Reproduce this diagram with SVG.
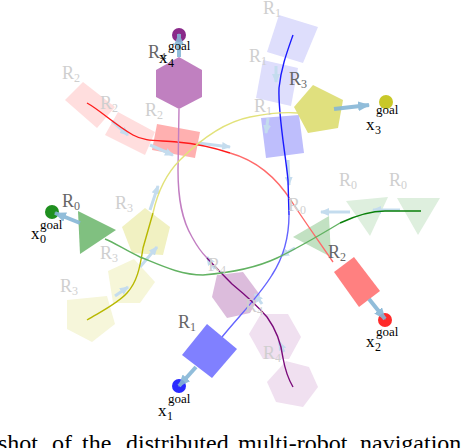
<svg xmlns="http://www.w3.org/2000/svg" width="462" height="448" viewBox="0 0 462 448">
<defs>
<marker id="ah" markerUnits="userSpaceOnUse" markerWidth="12" markerHeight="10" refX="11" refY="5" orient="auto"><path d="M0,0 L12,5 L0,10 z" fill="#86b6d6"/></marker>
<marker id="ahg" markerUnits="userSpaceOnUse" markerWidth="9" markerHeight="8" refX="8" refY="4" orient="auto"><path d="M0,0 L9,4 L0,8 z" fill="#c4dcee"/></marker>
<style>
.lbl{font-family:"Liberation Serif","Times New Roman",serif;font-size:18px}
.cur{fill:#666}
.gh{fill:#cfcfcf}
.gl{font-family:"Liberation Serif","Times New Roman",serif;fill:#000}
.cap{font-family:"Liberation Serif","Times New Roman",serif;fill:#000;font-size:24px}
.arr{stroke:#86b6d6;stroke-width:4;fill:none;opacity:0.9}
.garr{stroke:#c4dcee;stroke-width:3;fill:none}
.tr{fill:none;stroke-width:1.4}
</style>
</defs>

<g id="ghosts">
<polygon points="65,100 83,82 115,107 97,128" fill="#ffdede"/>
<polygon points="105,135 118,112 155,132 145,155" fill="#ffdede"/>
<polygon points="157,124 200,132 195,158 152,150" fill="#ffb0b0"/>
<polygon points="279,15 318,27 303,63 267,52" fill="#dedefc"/>
<polygon points="263,60 298,68 291,106 256,98" fill="#dedefc"/>
<polygon points="261,118 299,115 304,153 266,158" fill="#bebefc"/>
<polygon points="122,227 145,208 170,227 163,255 132,253" fill="#f1f1c2"/>
<polygon points="108,271 134,259 155,282 140,303 113,303" fill="#f6f6d8"/>
<polygon points="67,300 107,296 115,324 92,342 67,329" fill="#f6f6da"/>
<polygon points="217,275 243,272 260,295 250,313 227,318 212,297" fill="#dcbcdc"/>
<polygon points="249,334 261,314 288,314 301,337 289,359 263,359" fill="#f0e0f0"/>
<polygon points="267,382 286,361 309,367 318,387 303,407 276,402" fill="#f0e0f0"/>
<polygon points="293,237 329,216 331,257" fill="#c2e1c2"/>
<polygon points="346,201 388,197 370,236" fill="#deefde"/>
<polygon points="397,198 440,198 418,235" fill="#deefde"/>
</g>

<g id="ghost-arrows">
<line class="garr" x1="112" y1="121" x2="128" y2="135" marker-end="url(#ahg)"/>
<line class="garr" x1="150" y1="145" x2="173" y2="155" marker-end="url(#ahg)"/>
<line class="garr" x1="198" y1="143" x2="230" y2="147" marker-end="url(#ahg)"/>
<line class="garr" x1="276" y1="66" x2="276" y2="82" marker-end="url(#ahg)"/>
<line class="garr" x1="268" y1="118" x2="266" y2="133" marker-end="url(#ahg)"/>
<line class="garr" x1="288" y1="160" x2="289" y2="185" marker-end="url(#ahg)"/>
<line class="garr" x1="150" y1="210" x2="158" y2="186" marker-end="url(#ahg)"/>
<line class="garr" x1="140" y1="267" x2="157" y2="247" marker-end="url(#ahg)"/>
<line class="garr" x1="115" y1="296" x2="128" y2="287" marker-end="url(#ahg)"/>
<line class="garr" x1="400" y1="210" x2="373" y2="210" marker-end="url(#ahg)"/>
<line class="garr" x1="350" y1="212" x2="321" y2="212" marker-end="url(#ahg)"/>
<line class="garr" x1="295" y1="248" x2="281" y2="256" marker-end="url(#ahg)"/>
<line class="garr" x1="215" y1="269" x2="207" y2="257" marker-end="url(#ahg)"/>
<line class="garr" x1="262" y1="304" x2="255" y2="294" marker-end="url(#ahg)"/>
<line class="garr" x1="284" y1="352" x2="279" y2="342" marker-end="url(#ahg)"/>
</g>

<g id="trajectories">
<path class="tr" stroke="#ff1a1a" d="M87,103 C100,110 115,125 133,135 C145,142 160,140 177,142 C200,144 215,148 230,153"/>
<path class="tr" stroke="#ff6a6a" d="M230,153 C255,160 275,175 292,202 C305,222 318,240 333,262"/>
<path class="tr" stroke="#1a1aff" d="M293,35 C287,52 281,68 279,88 C278,115 285,150 288,180 L289,215"/>
<path class="tr" stroke="#6464ff" d="M289,215 C289,240 283,258 272,275 C260,295 240,315 222,337"/>
<path class="tr" stroke="#c27ec2" d="M179,109 L178,170 C178,200 182,220 192,237 C198,248 203,254 207,258"/>
<path class="tr" stroke="#7a0a7a" d="M207,258 Q220,272 232,284 Q255,303 267,317 Q280,335 283,358 Q286,375 293,387"/>
<path class="tr" stroke="#b8b800" d="M87,320 C100,312 117,304 127,293 C137,282 140,268 143,248 L153,213"/>
<path class="tr" stroke="#e2e27a" d="M153,213 C158,190 168,172 180,160 C200,140 225,122 250,117 C270,113 285,112 298,113"/>
<path class="tr" stroke="#0a800a" d="M421,211 L385,211 C370,211 355,216 340,223"/>
<path class="tr" stroke="#62b262" d="M340,223 C320,235 300,247 277,258 C260,266 240,272 203,275 C180,275 160,265 140,257 C125,250 115,243 105,239"/>
</g>

<g id="goals">
<circle cx="52" cy="212" r="7" fill="#1f8f1f"/>
<circle cx="179" cy="386" r="7" fill="#2a2aff"/>
<circle cx="385" cy="320" r="7" fill="#ff2a2a"/>
<circle cx="386" cy="102" r="7" fill="#c8c828"/>
<circle cx="179" cy="35" r="7" fill="#8a2a8a"/>
</g>

<g id="robot-R0">
<polygon points="78,211 116,230 80,254" fill="#80c080"/>
<line class="arr" x1="80" y1="223" x2="55" y2="213" marker-end="url(#ah)"/>
</g>
<g id="robot-R1">
<polygon points="207,324 237,349 212,378 182,355" fill="#8080ff"/>
<line class="arr" x1="196" y1="367" x2="179" y2="386" marker-end="url(#ah)"/>
</g>
<g id="robot-R2">
<polygon points="334,272 354,257 380,291 359,307" fill="#ff8080"/>
<line class="arr" x1="369" y1="299" x2="385" y2="319" marker-end="url(#ah)"/>
</g>
<g id="robot-R3">
<polygon points="313,85 343,100 338,128 308,133 294,107" fill="#e0e07e"/>
<line class="arr" x1="334" y1="109" x2="369" y2="105" marker-end="url(#ah)"/>
</g>
<g id="robot-R4">
<polygon points="179,57 202,70 202,97 179,109 156,97 156,70" fill="#c080c0"/>
<line class="arr" x1="179" y1="57" x2="179" y2="34" marker-end="url(#ah)"/>
</g>

<g id="labels">
<text class="lbl gh" x="62" y="79">R<tspan font-size="12" dy="3">2</tspan></text>
<text class="lbl gh" x="100" y="109">R<tspan font-size="12" dy="3">2</tspan></text>
<text class="lbl gh" x="145" y="116">R<tspan font-size="12" dy="3">2</tspan></text>
<text class="lbl gh" x="263" y="14">R<tspan font-size="12" dy="3">1</tspan></text>
<text class="lbl gh" x="249" y="62">R<tspan font-size="12" dy="3">1</tspan></text>
<text class="lbl gh" x="254" y="112">R<tspan font-size="12" dy="3">1</tspan></text>
<text class="lbl gh" x="115" y="209">R<tspan font-size="12" dy="3">3</tspan></text>
<text class="lbl gh" x="100" y="259">R<tspan font-size="12" dy="3">3</tspan></text>
<text class="lbl gh" x="60" y="292">R<tspan font-size="12" dy="3">3</tspan></text>
<text class="lbl gh" x="339" y="186">R<tspan font-size="12" dy="3">0</tspan></text>
<text class="lbl gh" x="389" y="186">R<tspan font-size="12" dy="3">0</tspan></text>
<text class="lbl gh" x="288" y="211">R<tspan font-size="12" dy="3">0</tspan></text>
<text class="lbl gh" x="208" y="271">R<tspan font-size="12" dy="3">4</tspan></text>
<text class="lbl gh" x="245" y="312">R<tspan font-size="12" dy="3">4</tspan></text>
<text class="lbl gh" x="263" y="359">R<tspan font-size="12" dy="3">4</tspan></text>
<text class="lbl cur" x="62" y="207">R<tspan font-size="12" dy="3">0</tspan></text>
<text class="lbl cur" x="178" y="328">R<tspan font-size="12" dy="3">1</tspan></text>
<text class="lbl cur" x="328" y="258">R<tspan font-size="12" dy="3">2</tspan></text>
<text class="lbl cur" x="289" y="85">R<tspan font-size="12" dy="3">3</tspan></text>
<text class="lbl cur" x="148" y="58">R<tspan font-size="12" dy="3">4</tspan></text>

<text class="gl" font-size="17" x="31" y="239">x</text>
<text class="gl" font-size="12" x="40" y="243">0</text>
<text class="gl" font-size="13" x="40" y="229">goal</text>

<text class="gl" font-size="17" x="158" y="416">x</text>
<text class="gl" font-size="12" x="167" y="420">1</text>
<text class="gl" font-size="13" x="168" y="403">goal</text>

<text class="gl" font-size="17" x="366" y="347">x</text>
<text class="gl" font-size="12" x="375" y="351">2</text>
<text class="gl" font-size="13" x="376" y="336">goal</text>

<text class="gl" font-size="17" x="366" y="130">x</text>
<text class="gl" font-size="12" x="375" y="134">3</text>
<text class="gl" font-size="13" x="376" y="114">goal</text>

<text class="gl" font-size="17" x="159" y="63">x</text>
<text class="gl" font-size="12" x="168" y="67">4</text>
<text class="gl" font-size="13" x="168" y="50">goal</text>
</g>

<g id="caption">
<text class="cap" y="451"><tspan x="-50">Snapshot</tspan><tspan x="52">of</tspan><tspan x="82">the</tspan><tspan x="126">distributed</tspan><tspan x="238">multi-robot</tspan><tspan x="360">navigation</tspan></text>
</g>
</svg>
